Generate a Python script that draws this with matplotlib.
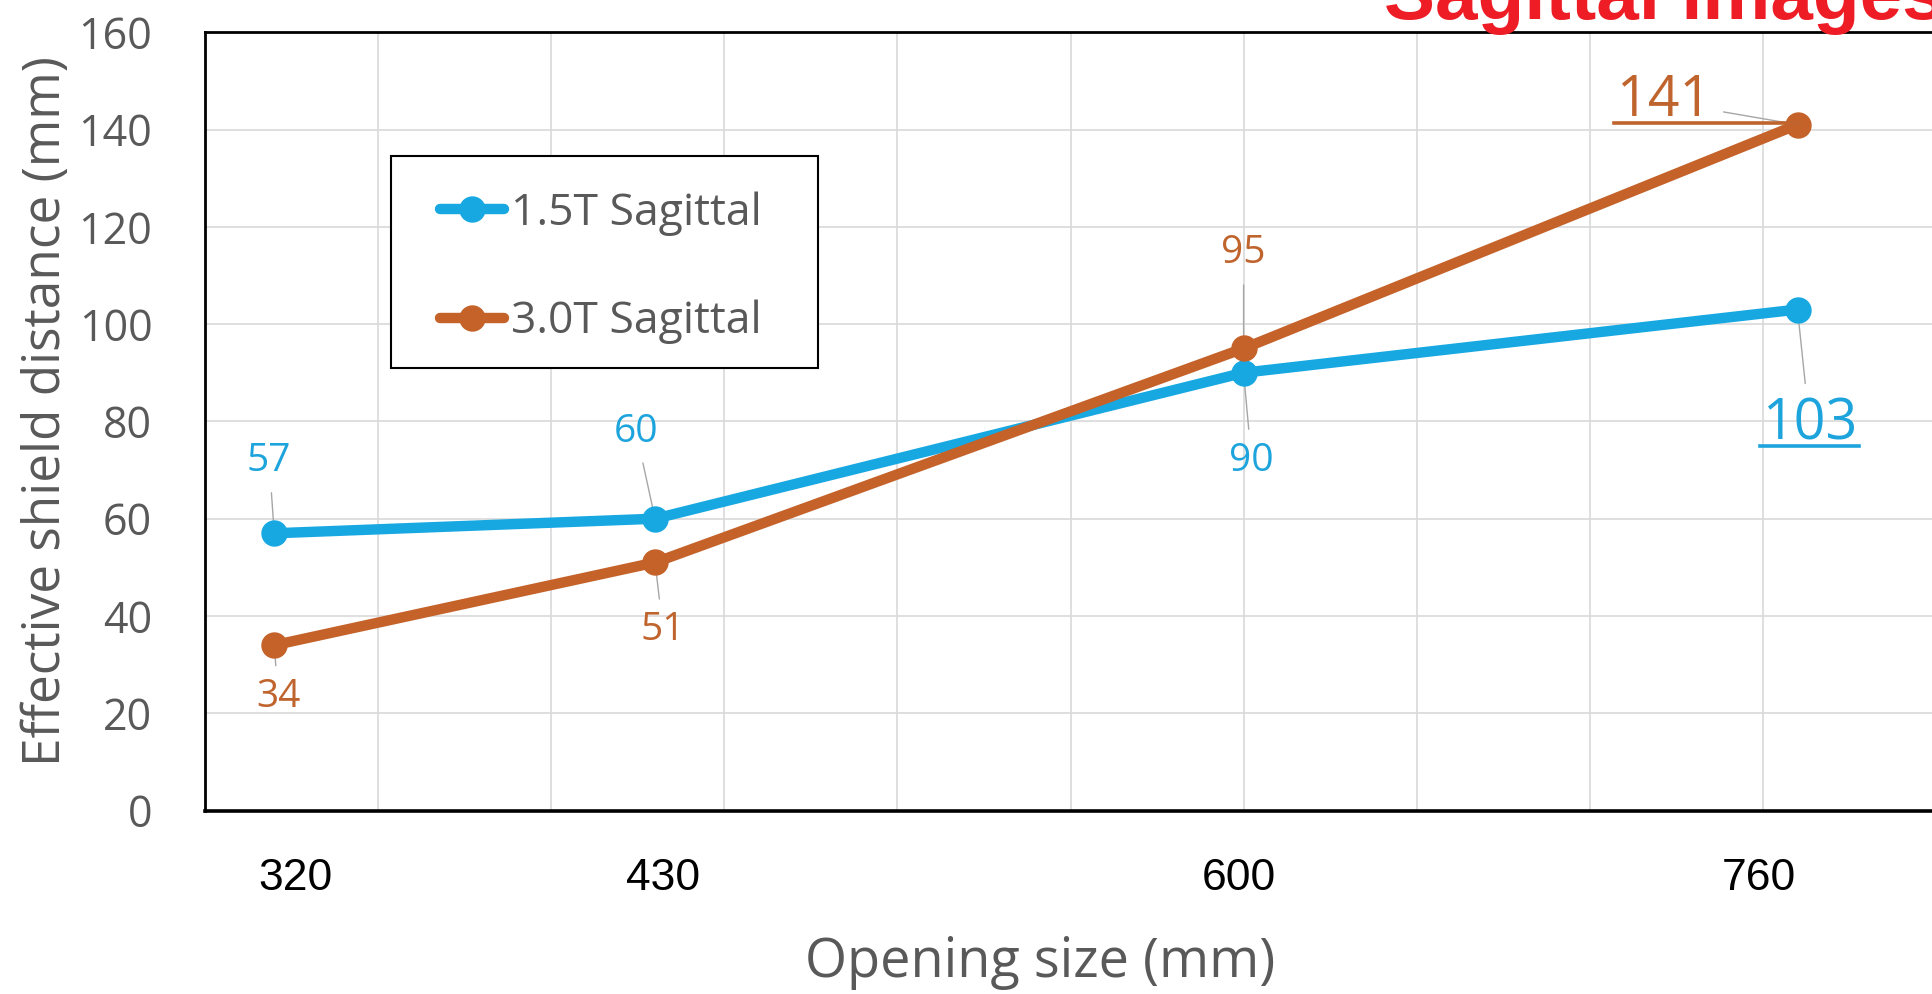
import matplotlib
matplotlib.use('Agg')
import matplotlib.pyplot as plt
from matplotlib.patches import Rectangle
from matplotlib.lines import Line2D
from matplotlib import font_manager
import numpy as np

# ---------------- data ----------------
opening_mm = [320, 430, 600, 760]
tick_labels = ['320', '430', '600', '760']
series_names = ['1.5T Sagittal', '3.0T Sagittal']
shield_15t = [57, 60, 90, 103]
shield_30t = [34, 51, 95, 141]
title_text = 'Sagittal images'
x_title = 'Opening size (mm)'
y_title = 'Effective shield distance (mm)'

# ---------------- style / layout ----------------
W, H, DPI = 1933, 994, 100
plt.rcParams['font.family'] = ['Open Sans', 'DejaVu Sans']

BLUE = '#17a8e2'
ORANGE = '#c4622a'
BLUE_TXT = '#1ea4dc'
ORANGE_TXT = '#c0642e'
GRAY_TXT = '#595959'
GRID = '#d9d9d9'
LEADER = '#a6a6a6'

_installed = {f.name for f in font_manager.fontManager.ttflist}
if 'Liberation Sans Narrow' in _installed:
    TICK_FONT, TICK_SIZE = 'Liberation Sans Narrow', 35
else:
    TICK_FONT, TICK_SIZE = 'Liberation Sans', 32


def fx(px):
    return px / W


def fy(py):
    return 1 - py / H


fig = plt.figure(figsize=(W / DPI, H / DPI), dpi=DPI)
ax = fig.add_axes([fx(205), fy(810.6), 1731 / W, (810.6 - 32.2) / H])
ax.set_xlim(300, 800)
ax.set_ylim(0, 160)

ax.set_xticks([])
ax.set_xticks(np.arange(300, 801, 50), minor=True)
ax.set_yticks(np.arange(0, 161, 20))
ax.tick_params(axis='x', which='both', length=0, labelbottom=False)
ax.tick_params(axis='y', length=0, pad=38, labelsize=31, labelcolor=GRAY_TXT)
ax.grid(which='minor', axis='x', color=GRID, lw=1.2)
ax.grid(which='major', axis='y', color=GRID, lw=1.2)
ax.set_axisbelow(True)

ax.spines['right'].set_visible(False)
ax.spines['left'].set_linewidth(2)
ax.spines['top'].set_linewidth(2)
ax.spines['bottom'].set_linewidth(2.6)
for s in ['left', 'top', 'bottom']:
    ax.spines[s].set_color('black')

l1, = ax.plot(opening_mm, shield_15t, color=BLUE, lw=7.5, marker='o', ms=18,
              solid_capstyle='round', zorder=3)
l2, = ax.plot(opening_mm, shield_30t, color=ORANGE, lw=7.5, marker='o', ms=18,
              solid_capstyle='round', zorder=3.1)

# x tick labels (placed text below axis)
tick_dx = [21, 8, -5, -39]
for xv, lab, dx in zip(opening_mm, tick_labels, tick_dx):
    ax.annotate(lab, xy=(xv, 0), xycoords=('data', 'axes fraction'),
                xytext=(dx, -67.4), textcoords='offset pixels',
                ha='center', va='center', fontsize=TICK_SIZE, color='black',
                family=[TICK_FONT, 'DejaVu Sans'], annotation_clip=False)

# data labels with leader lines
off_15 = [(-5, 72), (-19, 87), (8, -88), (12, -115)]
off_30 = [(4, -52), (8, -68), (0, 95), (-134, 23)]
emph = [False, False, False, True]
underlined = []
for vals, offs, col in [(shield_15t, off_15, BLUE_TXT), (shield_30t, off_30, ORANGE_TXT)]:
    for xv, yv, (dx, dy), e in zip(opening_mm, vals, offs, emph):
        a = ax.annotate(str(yv), xy=(xv, yv), xycoords='data',
                        xytext=(dx, dy), textcoords='offset pixels',
                        ha='center', va='center', color=col,
                        fontsize=40 if e else 28,
                        arrowprops=dict(arrowstyle='-', color=LEADER, lw=1.0,
                                        shrinkA=7, shrinkB=0),
                        zorder=2.5, annotation_clip=False)
        if e:
            underlined.append((a, col))

# axis titles
ax.set_xlabel(x_title, fontsize=39, color=GRAY_TXT, va='center')
ax.xaxis.set_label_coords((1040 - 205) / 1731, (810.6 - 962) / 778.4)
ax.set_ylabel(y_title, fontsize=37, color=GRAY_TXT, va='center')
ax.yaxis.set_label_coords((47 - 205) / 1731, (810.6 - 411) / 778.4)

# legend frame and legend
ax.add_patch(Rectangle((fx(391), fy(368)), (818 - 391) / W, (368 - 156) / H,
                       transform=fig.transFigure, facecolor='white',
                       edgecolor='black', lw=1.5, zorder=4, clip_on=False))
leg = ax.legend(handles=[l1, l2], labels=series_names, frameon=False,
                loc='upper left', bbox_to_anchor=(fx(440), fy(191)),
                bbox_transform=fig.transFigure, borderpad=0, borderaxespad=0,
                handlelength=1.45, handletextpad=0.15, labelspacing=1.45,
                prop={'size': 32}, labelcolor=GRAY_TXT)
leg.set_zorder(5)

# red title (partly cut by the figure edge)
fig.text(fx(1384), fy(19), title_text, color='#ee1c25', fontsize=55,
         fontweight='bold', family=['Liberation Sans', 'DejaVu Sans'],
         ha='left', va='baseline')

# underline the emphasised labels
fig.canvas.draw()
r = fig.canvas.get_renderer()
for a, col in underlined:
    bb = a.get_window_extent(r)
    yline = bb.y0 + 7
    fig.add_artist(Line2D([(bb.x0 - 2) / W, (bb.x1 + 2) / W], [yline / H, yline / H],
                          color=col, lw=2.6, transform=fig.transFigure))

fig.savefig('out.png', dpi=DPI)
